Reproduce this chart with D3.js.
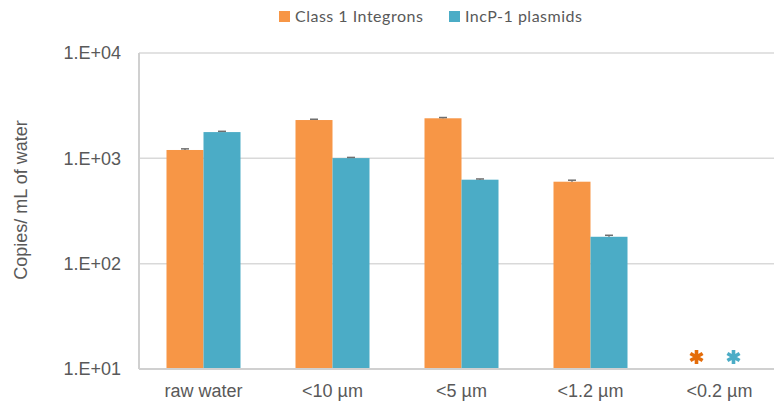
<!DOCTYPE html>
<html><head><meta charset="utf-8">
<script src="https://cdn.jsdelivr.net/npm/d3@7/dist/d3.min.js"></script>
<style>body{margin:0;background:#fff}svg{display:block}</style>
</head><body><svg id="c" width="774" height="403"></svg>
<script>
const categories = ["raw water", "<10 µm", "<5 µm", "<1.2 µm", "<0.2 µm"];
const seriesNames = ["Class 1 Integrons", "IncP-1 plasmids"];
const integrons = [1200, 2310, 2400, 600, null];
const incp1 = [1775, 1005, 627, 180, null];
const integronsErr = [30, 40, 40, 20, null];
const incp1Err = [30, 15, 10, 6, null];
const yTicks = [10, 100, 1000, 10000];
const yTickLabels = ["1.E+01", "1.E+02", "1.E+03", "1.E+04"];
const colors = ["#F79646", "#4BACC6"];
const starColors = ["#E46C0A", "#4BACC6"];

const svg = d3.select("#c");
const pL = 139, pT = 53, pB = 369, pR = 784;
const x = d3.scaleBand().domain(categories).range([pL, pR]).paddingInner(0).paddingOuter(0);
const xs = d3.scaleBand().domain(seriesNames).range([0, x.bandwidth()]).paddingInner(0).paddingOuter(0.743);
const y = d3.scaleLog().domain([10, 10000]).range([pB, pT]);
const font = "'Liberation Sans', Arial, sans-serif";

// grid
svg.append("g").selectAll("line").data(yTicks.slice(1)).join("line")
  .attr("x1", pL).attr("x2", 774).attr("y1", d => y(d)).attr("y2", d => y(d))
  .attr("stroke", "#d9d9d9").attr("stroke-width", 1.5);

// y labels
const yAxis = d3.axisLeft(y).tickValues(yTicks).tickFormat((d, i) => yTickLabels[i]).tickSize(0).tickPadding(18);
const ga = svg.append("g").attr("transform", `translate(${pL},0)`).call(yAxis);
ga.select(".domain").remove();
ga.selectAll("text").attr("font-family", font).attr("font-size", 18).attr("fill", "#595959");

// bars
const data = [integrons, incp1];
const errs = [integronsErr, incp1Err];
data.forEach((vals, si) => {
  const g = svg.append("g");
  categories.forEach((c, i) => {
    const v = vals[i];
    if (v == null) return;
    const bx = x(c) + xs(seriesNames[si]);
    g.append("rect").attr("x", bx).attr("width", xs.bandwidth())
      .attr("y", y(v)).attr("height", y(10) - y(v)).attr("fill", colors[si]);
    const e = errs[si][i];
    const cx = bx + xs.bandwidth() / 2;
    g.append("line").attr("x1", cx).attr("x2", cx).attr("y1", y(v + e)).attr("y2", y(v)).attr("stroke", "#6f6f6f").attr("stroke-width", 1.5);
    g.append("line").attr("x1", cx - 4).attr("x2", cx + 4).attr("y1", y(v + e)).attr("y2", y(v + e)).attr("stroke", "#6f6f6f").attr("stroke-width", 1.5);
  });
});

// asterisk markers for non-detect
const star = d3.symbol().type(d3.symbolAsterisk).size(140);
categories.forEach((c, i) => {
  seriesNames.forEach((s, si) => {
    if (data[si][i] != null) return;
    const cx = x(c) + xs(s) + xs.bandwidth() / 2 - 4.5;
    svg.append("path").attr("d", star()).attr("transform", `translate(${cx},357)`)
      .attr("fill", "none").attr("stroke", starColors[si]).attr("stroke-width", 3.6);
  });
});

// axes lines
svg.append("line").attr("x1", pL).attr("x2", pL).attr("y1", pT).attr("y2", pB)
  .attr("stroke", "#d0d0d0").attr("stroke-width", 2);
svg.append("line").attr("x1", pL).attr("x2", 774).attr("y1", pB).attr("y2", pB)
  .attr("stroke", "#d0d0d0").attr("stroke-width", 2);

// x labels
const xAxis = d3.axisBottom(x).tickSize(0).tickPadding(15);
const gx = svg.append("g").attr("transform", `translate(0,${pB})`).call(xAxis);
gx.select(".domain").remove();
gx.selectAll("text").attr("font-family", font).attr("font-size", 18).attr("fill", "#595959");

// y title
svg.append("text").attr("transform", "translate(27,200) rotate(-90)")
  .attr("text-anchor", "middle").attr("font-family", font).attr("font-size", 18).attr("fill", "#595959")
  .text("Copies/ mL of water");

// legend
const legX = [279, 449];
seriesNames.forEach((s, i) => {
  svg.append("rect").attr("x", legX[i]).attr("y", 11).attr("width", 11).attr("height", 11).attr("fill", colors[i]);
  svg.append("text").attr("x", legX[i] + 16).attr("y", 21.5).attr("font-family", "Lato, 'Open Sans', sans-serif")
    .attr("font-size", 16).attr("letter-spacing", 0.5).attr("fill", "#595959").text(s);
});
</script></body></html>
